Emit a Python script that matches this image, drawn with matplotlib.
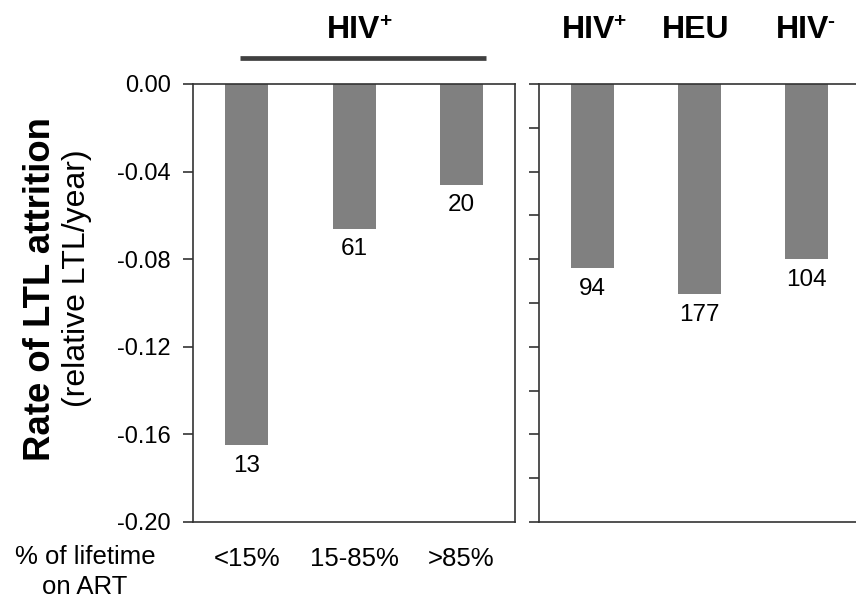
import numpy as np
import matplotlib.pyplot as plt

plt.rcParams.update({
    'font.family': ['Liberation Sans', 'DejaVu Sans'],
    'font.size': 17,
    'axes.linewidth': 1.2,
    'axes.edgecolor': '#333333',
    'xtick.color': '#333333',
    'ytick.color': '#333333',
    'xtick.labelcolor': 'black',
    'ytick.labelcolor': 'black',
})

# ART exposure groups (HIV+ only)
art_groups = ['<15%', '15-85%', '>85%']
art_rates = [-0.165, -0.066, -0.046]
art_n = [13, 61, 20]

# HIV status groups
status_groups = ['HIV', 'HEU', 'HIV']
status_sup = ['+', '', '-']
status_rates = [-0.084, -0.096, -0.080]
status_n = [94, 177, 104]

bar_color = '#808080'

fig = plt.figure(figsize=(8.56, 6.09), dpi=100)
ax1 = fig.add_axes([0.2255, 0.1429, 0.3762, 0.7192])
ax2 = fig.add_axes([0.6297, 0.1429, 0.3750, 0.7192])


def header(ax, x, label, sup):
    # group label above the panel, with a small superscript sign
    t = ax.text(x, 1.105, label, transform=ax.get_xaxis_transform(),
                ha='center', va='baseline', fontsize=23, fontweight='bold')
    if sup:
        ax.annotate(sup, xy=(1, 1), xycoords=t, xytext=(-1, 2),
                    textcoords='offset points', ha='left', va='top',
                    fontsize=15, fontweight='bold')


def bar_labels(ax, x, vals, ns):
    for xi, v, n in zip(x, vals, ns):
        ax.annotate(str(n), xy=(xi, v), xytext=(0, -7), textcoords='offset points',
                    ha='center', va='top', fontsize=17.5)


# left panel: rate by % of lifetime on ART
x1 = np.arange(len(art_groups))
ax1.bar(x1, art_rates, width=0.4, color=bar_color)
bar_labels(ax1, x1, art_rates, art_n)
ax1.set_xlim(-0.5, 2.5)
ax1.set_ylim(-0.20, 0.0)
ax1.set_yticks(np.arange(-0.20, 0.001, 0.04))
ax1.set_yticklabels(['%.2f' % v for v in np.arange(-0.20, 0.001, 0.04)])
ax1.set_xticks(x1)
ax1.set_xticklabels(art_groups, fontsize=18.5)
ax1.tick_params(axis='x', length=0, pad=18)
ax1.tick_params(axis='y', direction='out', length=7, width=1.2, pad=9)

header(ax1, 1, 'HIV', '+')
ax1.plot([-0.062, 2.23], [1.059, 1.059], transform=ax1.get_xaxis_transform(),
         color='#404040', lw=3.4, clip_on=False, solid_capstyle='butt')

# right panel: rate by HIV status
x2 = np.arange(len(status_groups))
ax2.bar(x2, status_rates, width=0.4, color=bar_color)
bar_labels(ax2, x2, status_rates, status_n)
ax2.set_xlim(-0.5, 2.5)
ax2.set_ylim(-0.20, 0.0)
ax2.set_yticks(np.arange(-0.20, 0.001, 0.02))
ax2.set_yticklabels([])
ax2.set_xticks([])
ax2.tick_params(axis='y', direction='out', length=7, width=1.2)
for xi, lab, sup in zip(x2, status_groups, status_sup):
    header(ax2, xi - 0.04, lab, sup)

# y axis title, two lines
fig.text(41 / 856, 1 - 289 / 609, 'Rate of LTL attrition', rotation=90,
         ha='center', va='center', fontsize=26.3, fontweight='bold')
fig.text(77 / 856, 1 - 278 / 609, '(relative LTL/year)', rotation=90,
         ha='center', va='center', fontsize=23)

fig.text(85 / 856, 1 - 545 / 609, '% of lifetime\non ART', ha='center', va='top',
         fontsize=18.5, linespacing=1.3)

fig.savefig('out.png', dpi=100)
